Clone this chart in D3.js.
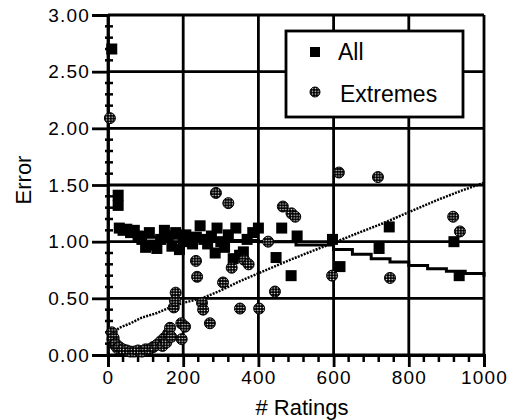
<!DOCTYPE html>
<html>
<head>
<meta charset="utf-8">
<script src="https://cdn.jsdelivr.net/npm/d3@7"></script>
<style>
  body { margin: 0; background: #fff; }
  svg { display: block; }
</style>
</head>
<body>
<div id="chart-container"></div>
<script>
// values

// "All" points
var allX = [10, 27, 27, 30, 40, 50, 60, 70, 80, 90, 100, 110, 120, 130, 140, 150, 160, 170, 180, 190, 200,
            207, 215, 225, 235, 245, 255, 265, 275, 285, 290, 300, 310, 320, 333, 340, 350, 360, 370, 385, 400,
            447, 462, 487, 503, 597, 617, 721, 748, 920, 934];
var allY = [2.70, 1.41, 1.32, 1.12, 1.10, 1.11, 1.08, 1.10, 1.05, 1.02, 0.95, 1.08, 0.97, 0.94, 1.02, 1.10, 1.05, 0.96, 1.08, 0.93, 1.02,
            1.06, 1.00, 0.98, 1.04, 1.14, 1.02, 0.98, 1.05, 0.90, 1.12, 1.00, 0.95, 1.06, 0.85, 1.12, 0.88, 0.91, 1.02, 1.08, 1.12,
            0.86, 1.12, 0.70, 1.05, 1.02, 0.78, 0.94, 1.13, 1.00, 0.70];

// "Extremes" points
var extX = [5, 10, 12, 15, 18, 20, 25, 30, 40, 50, 60, 70, 80, 90, 100, 110, 120, 130, 140, 145, 150, 155, 160, 165, 168, 175, 178, 180,
            195, 196, 205, 234, 237, 250, 253, 271, 287, 306, 320, 329, 351, 362, 374, 402, 426, 444,
            465, 488, 498, 596, 614, 718, 750, 918, 936];
var extY = [2.09, 0.20, 0.14, 0.15, 0.09, 0.10, 0.06, 0.07, 0.05, 0.04, 0.03, 0.03, 0.04, 0.03, 0.05, 0.05, 0.07, 0.09, 0.12, 0.08, 0.15, 0.11, 0.19, 0.24, 0.16, 0.42, 0.48, 0.55,
            0.28, 0.14, 0.25, 0.83, 0.69, 0.46, 0.40, 0.28, 1.43, 0.64, 1.34, 0.77, 0.41, 0.84, 0.80, 0.41, 1.00, 0.56,
            1.31, 1.25, 1.22, 0.70, 1.61, 1.57, 0.68, 1.22, 1.09];

// running curves
var allLineX = [20, 50, 100, 150, 200, 300, 400, 500, 600, 650, 700, 750, 800, 850, 900, 950, 1000];
var allLineY = [1.12, 1.08, 1.04, 1.03, 1.02, 1.01, 1.00, 0.97, 0.93, 0.89, 0.85, 0.82, 0.79, 0.76, 0.74, 0.72, 0.69];
var extLineX = [5, 30, 60, 90, 130, 165, 200, 250, 300, 350, 400, 470, 530, 600, 660, 730, 800, 870, 940, 1000];
var extLineY = [0.17, 0.24, 0.28, 0.33, 0.37, 0.42, 0.46, 0.50, 0.57, 0.65, 0.72, 0.82, 0.90, 0.99, 1.07, 1.16, 1.26, 1.36, 1.45, 1.52];

var xTicks = [0, 200, 400, 600, 800, 1000];
var yTicks = [0, 0.5, 1, 1.5, 2, 2.5, 3];

var svgWidth = 509;
var svgHeight = 420;
var margin = { top: 15, right: 25, bottom: 65, left: 108 };
var width = svgWidth - margin.left - margin.right;
var height = svgHeight - margin.top - margin.bottom;

var svg = d3.select("#chart-container")
    .append("svg")
    .attr("width", svgWidth)
    .attr("height", svgHeight);

// dotted fill for the Extremes markers
var defs = svg.append("defs");
var pat = defs.append("pattern")
    .attr("id", "dots")
    .attr("patternUnits", "userSpaceOnUse")
    .attr("width", 2.8)
    .attr("height", 2.8);
pat.append("rect").attr("width", 2.8).attr("height", 2.8).attr("fill", "#000");
pat.append("circle").attr("cx", 1.4).attr("cy", 1.4).attr("r", 0.75).attr("fill", "#fff");

var g = svg.append("g")
    .attr("transform", "translate(" + margin.left + "," + margin.top + ")");

var x = d3.scaleLinear().domain([0, 1000]).range([0, width]);
var y = d3.scaleLinear().domain([0, 3]).range([height, 0]);

// grid
g.selectAll(".vgrid")
    .data(xTicks)
    .enter().append("line")
    .attr("x1", function(d) { return x(d); })
    .attr("x2", function(d) { return x(d); })
    .attr("y1", 0)
    .attr("y2", height)
    .attr("stroke", "#000")
    .attr("stroke-width", 2.8);

g.selectAll(".hgrid")
    .data(yTicks)
    .enter().append("line")
    .attr("x1", 0)
    .attr("x2", width)
    .attr("y1", function(d) { return y(d); })
    .attr("y2", function(d) { return y(d); })
    .attr("stroke", "#000")
    .attr("stroke-width", 2.8);

// minor ticks
var xMinor = d3.range(0, 1001, 40).filter(function(d) { return d % 200 != 0; });
var yMinor = d3.range(0, 31, 1).map(function(d) { return d / 10; }).filter(function(d, i) { return i % 5 != 0; });

g.selectAll(".xminor")
    .data(xMinor)
    .enter().append("line")
    .attr("x1", function(d) { return x(d); })
    .attr("x2", function(d) { return x(d); })
    .attr("y1", height)
    .attr("y2", height + 7)
    .attr("stroke", "#000")
    .attr("stroke-width", 2.5);

g.selectAll(".yminor")
    .data(yMinor)
    .enter().append("line")
    .attr("x1", -3)
    .attr("x2", 5)
    .attr("y1", function(d) { return y(d); })
    .attr("y2", function(d) { return y(d); })
    .attr("stroke", "#000")
    .attr("stroke-width", 2.5);

// axes
var xAxis = g.append("g")
    .attr("transform", "translate(0," + height + ")")
    .call(d3.axisBottom(x).tickValues(xTicks).tickSize(12).tickPadding(4).tickFormat(d3.format("d")));

var yAxis = g.append("g")
    .call(d3.axisLeft(y).tickValues(yTicks).tickSize(16).tickPadding(2).tickFormat(d3.format(".2f")));

[xAxis, yAxis].forEach(function(ax) {
    ax.select(".domain").attr("stroke-width", 2.8);
    ax.selectAll(".tick line").attr("stroke-width", 2.8);
    ax.selectAll("text")
        .attr("font-family", "Liberation Sans, Arial, sans-serif")
        .attr("font-size", 19)
        .attr("letter-spacing", 1.2)
        .attr("fill", "#000");
});

// curves
var line = d3.line()
    .x(function(d) { return x(d[0]); })
    .y(function(d) { return y(d[1]); });

g.append("path")
    .datum(d3.zip(extLineX, extLineY))
    .attr("d", line)
    .attr("fill", "none")
    .attr("stroke", "#000")
    .attr("stroke-width", 2.5)
    .attr("stroke-dasharray", "2,1.2");

g.append("path")
    .datum(d3.zip(allLineX, allLineY))
    .attr("d", line.curve(d3.curveStepAfter))
    .attr("fill", "none")
    .attr("stroke", "#000")
    .attr("stroke-width", 3);

// points
var sq = 11;
g.selectAll(".allpt")
    .data(d3.zip(allX, allY))
    .enter().append("rect")
    .attr("x", function(d) { return x(d[0]) - sq / 2; })
    .attr("y", function(d) { return y(d[1]) - sq / 2; })
    .attr("width", sq)
    .attr("height", sq)
    .attr("fill", "#000");

g.selectAll(".extpt")
    .data(d3.zip(extX, extY))
    .enter().append("circle")
    .attr("cx", function(d) { return x(d[0]); })
    .attr("cy", function(d) { return y(d[1]); })
    .attr("r", 5.5)
    .attr("fill", "url(#dots)")
    .attr("stroke", "#000")
    .attr("stroke-width", 1);

// legend
var legend = svg.append("g").attr("transform", "translate(286,31)");
legend.append("rect")
    .attr("width", 177)
    .attr("height", 86)
    .attr("fill", "#fff")
    .attr("stroke", "#000")
    .attr("stroke-width", 2.8);
legend.append("rect")
    .attr("x", 24).attr("y", 16)
    .attr("width", 10).attr("height", 10)
    .attr("fill", "#000");
legend.append("circle")
    .attr("cx", 29).attr("cy", 61)
    .attr("r", 5)
    .attr("fill", "url(#dots)")
    .attr("stroke", "#000");
legend.append("text")
    .attr("x", 52).attr("y", 29)
    .attr("font-family", "Liberation Sans, Arial, sans-serif")
    .attr("font-size", 23)
    .text("All");
legend.append("text")
    .attr("x", 54).attr("y", 71)
    .attr("font-family", "Liberation Sans, Arial, sans-serif")
    .attr("font-size", 23)
    .text("Extremes");

// axis titles
svg.append("text")
    .attr("x", 302)
    .attr("y", 415)
    .attr("text-anchor", "middle")
    .attr("font-family", "Liberation Sans, Arial, sans-serif")
    .attr("font-size", 22)
    .text("# Ratings");

svg.append("text")
    .attr("transform", "translate(31,180) rotate(-90)")
    .attr("text-anchor", "middle")
    .attr("font-family", "Liberation Sans, Arial, sans-serif")
    .attr("font-size", 22)
    .text("Error");
</script>
</body>
</html>
